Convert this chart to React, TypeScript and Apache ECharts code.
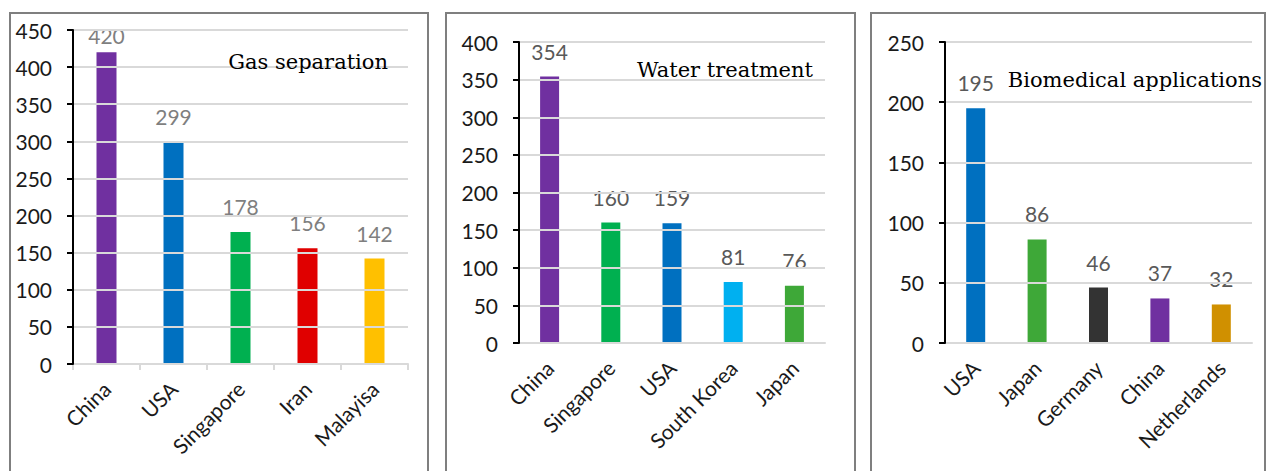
import React, { useEffect, useRef } from "react";
import * as echarts from "echarts";

const gasCategories = ["China", "USA", "Singapore", "Iran", "Malayisa"];
const gasValues = [420, 299, 178, 156, 142];
const gasColors = ["#7030a0", "#0070c0", "#00b050", "#e00000", "#ffc000"];

const waterCategories = ["China", "Singapore", "USA", "South Korea", "Japan"];
const waterValues = [354, 160, 159, 81, 76];
const waterColors = ["#7030a0", "#00b050", "#0070c0", "#00b0f0", "#3ea838"];

const bioCategories = ["USA", "Japan", "Germany", "China", "Netherlands"];
const bioValues = [195, 86, 46, 37, 32];
const bioColors = ["#0070c0", "#3ea838", "#333333", "#7030a0", "#d09000"];

const panelTitles = ["Gas separation", "Water treatment", "Biomedical applications"];
const yMax = [450, 400, 250];

const FONT = "Lato";

export default function App() {
  const ref = useRef<HTMLDivElement>(null);
  useEffect(() => {
    if (!ref.current) return;
    const chart = echarts.init(ref.current, null, { renderer: "svg" });
    const grids = [
      { left: 73, top: 30, width: 335, height: 334 },
      { left: 519, top: 42, width: 306, height: 301 },
      { left: 945, top: 42, width: 307, height: 301 },
    ];
    const cats = [gasCategories, waterCategories, bioCategories];
    const vals = [gasValues, waterValues, bioValues];
    const cols = [gasColors, waterColors, bioColors];
    const labelColors = ["#7f7f7f", "#595959", "#595959"];
    const showXTicks = [true, false, false];

    const xAxis = cats.map((c, i) => ({
      type: "category",
      gridIndex: i,
      data: c,
      boundaryGap: true,
      axisLine: { lineStyle: { color: "#d9d9d9", width: 2 } },
      axisTick: { show: showXTicks[i], length: 6, lineStyle: { color: "#d9d9d9", width: 2 } },
      axisLabel: {
        rotate: 45,
        interval: 0,
        margin: 21,
        color: "#1a1a1a",
        fontFamily: FONT,
        fontSize: 21,
      },
      z: 1,
    }));
    const yAxis = yMax.map((m, i) => ({
      type: "value",
      gridIndex: i,
      min: 0,
      max: m,
      interval: 50,
      axisLine: { show: true, lineStyle: { color: "#000", width: 2 } },
      axisTick: { show: true, length: 6, lineStyle: { color: "#000", width: 2 } },
      splitLine: { lineStyle: { color: "#d9d9d9", width: 2 } },
      axisLabel: { margin: 21, color: "#1a1a1a", fontFamily: FONT, fontSize: 21 },
      z: 3,
    }));
    const series = vals.map((v, i) => ({
      type: "bar",
      xAxisIndex: i,
      yAxisIndex: i,
      barWidth: i === 0 ? 20 : 19,
      data: v.map((val, j) => ({
        value: val,
        itemStyle: { color: cols[i][j] },
        label: i === 0 && j === 0 ? { distance: 6 } : undefined,
      })),
      label: {
        show: true,
        position: "top",
        distance: 15,
        color: labelColors[i],
        fontFamily: FONT,
        fontSize: 21,
      },
    }));
    const borders = [
      [10, 13, 418],
      [446, 13, 409],
      [871, 13, 394],
    ];
    const titlePos = [
      { x: 388, y: 62, align: "right" },
      { x: 813, y: 70, align: "right" },
      { x: 1262, y: 80, align: "right" },
    ];
    chart.setOption({
      animation: false,
      grid: grids,
      xAxis,
      yAxis,
      series,
      graphic: [
        ...borders.map(([x, y, w]) => ({
          type: "rect",
          shape: { x, y, width: w, height: 480 },
          style: { fill: "none", stroke: "#7f7f7f", lineWidth: 2 },
          z: 0,
        })),
        ...titlePos.map((p, i) => ({
          type: "text",
          x: p.x,
          y: p.y,
          style: {
            text: panelTitles[i],
            fill: "#000",
            font: '21px "DejaVu Serif"',
            align: p.align,
            verticalAlign: "middle",
          },
          z: 10,
        })),
      ],
    });
    return () => chart.dispose();
  }, []);
  return (
    <div
      ref={ref}
      style={{ position: "absolute", left: 0, top: 0, width: 1269, height: 471, background: "#fff" }}
    />
  );
}
